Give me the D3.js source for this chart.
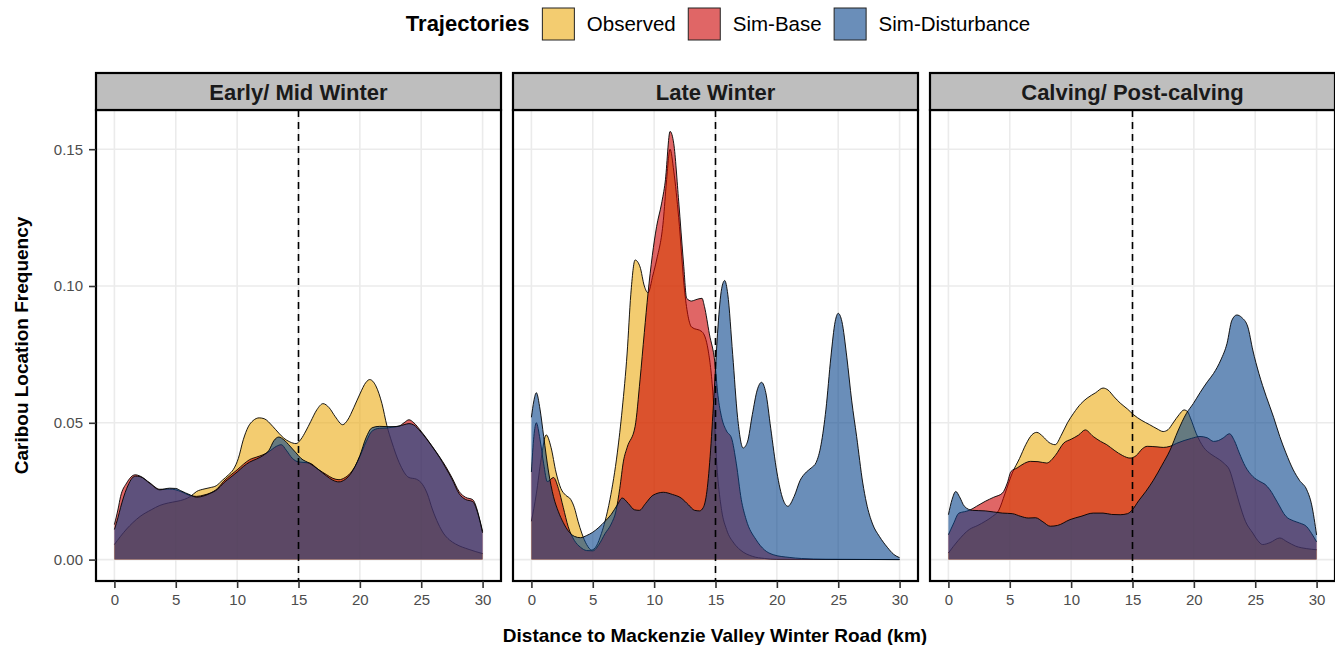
<!DOCTYPE html>
<html><head><meta charset="utf-8">
<script src="https://cdn.jsdelivr.net/npm/d3@7"></script>
<style>
body{margin:0;background:#fff}
svg{display:block}
text{font-family:"Liberation Sans",Arial,Helvetica,sans-serif}
</style></head>
<body><svg id="chart" width="1335" height="645"></svg>
<script>
// ---------- data ----------
const panelTitles = ["Early/ Mid Winter", "Late Winter", "Calving/ Post-calving"];
const seriesNames = ["Observed", "Sim-Base", "Sim-Disturbance"];
const seriesColors = ["#EBAA10", "#CC0000", "#07438A"];
const xTicks = [0, 5, 10, 15, 20, 25, 30];
const yTicks = [0, 0.05, 0.10, 0.15];
const yTickLabels = ["0.00", "0.05", "0.10", "0.15"];
const roadKm = 15;
const xTitle = "Distance to Mackenzie Valley Winter Road (km)";
const yTitle = "Caribou Location Frequency";
const legendTitle = "Trajectories";

// [km, density]
const earlyObserved = [[0,0.0055],[0.5,0.0085],[1,0.0112],[1.5,0.0135],[2.1,0.0158],[3,0.0182],[3.7,0.0198],[4.4,0.0207],[5.1,0.0213],[5.7,0.0220],[6.2,0.0231],[6.7,0.0249],[7.3,0.0258],[7.8,0.0263],[8.3,0.0270],[8.8,0.0290],[9.3,0.0310],[9.7,0.0330],[10.1,0.0370],[10.5,0.0438],[10.9,0.0485],[11.3,0.0508],[11.8,0.0518],[12.2,0.0515],[12.9,0.0487],[13.4,0.0462],[13.8,0.0444],[14.3,0.0430],[14.8,0.0424],[15.2,0.0440],[15.6,0.0470],[16.0,0.0505],[16.5,0.0548],[17.0,0.0570],[17.5,0.0555],[18.0,0.0522],[18.6,0.0493],[19.0,0.0510],[19.5,0.0555],[20.0,0.0605],[20.5,0.0648],[20.8,0.0658],[21.3,0.0635],[21.8,0.0570],[22.2,0.0490],[22.6,0.0430],[23.2,0.0355],[24.0,0.0300],[24.6,0.0294],[25.1,0.0275],[25.5,0.0240],[25.9,0.0185],[26.4,0.0130],[26.8,0.0097],[27.3,0.0072],[27.8,0.0057],[28.9,0.0037],[30,0.0022]];
const earlySimBase = [[0,0.0128],[0.3,0.0185],[0.5,0.0230],[1,0.0280],[1.7,0.0310],[2.1,0.0305],[2.9,0.0280],[3.7,0.0257],[4.5,0.0258],[5.0,0.0255],[5.4,0.0249],[6.2,0.0234],[6.7,0.0231],[7.3,0.0236],[7.8,0.0243],[8.4,0.0260],[8.9,0.0286],[9.5,0.0310],[10,0.0328],[10.5,0.0348],[11,0.0365],[11.6,0.0375],[12.1,0.0383],[12.6,0.0395],[13.2,0.0414],[13.6,0.0420],[14.0,0.0400],[14.5,0.0370],[15.0,0.0357],[15.9,0.0353],[16.6,0.0330],[17.3,0.0310],[17.8,0.0297],[18.3,0.0292],[18.8,0.0300],[19.1,0.0310],[19.6,0.0340],[20,0.0377],[20.5,0.0430],[21,0.0470],[21.6,0.0480],[22.2,0.0481],[22.7,0.0484],[23.2,0.0488],[23.6,0.0500],[24.0,0.0511],[24.4,0.0500],[24.9,0.0474],[25.4,0.0445],[25.9,0.0414],[26.5,0.0375],[27.0,0.0340],[27.5,0.0300],[28.1,0.0248],[28.6,0.0228],[29.2,0.0219],[29.5,0.0190],[29.7,0.0158],[30,0.0103]];
const earlySimDist = [[0,0.0110],[0.3,0.0155],[0.5,0.0190],[1,0.0260],[1.7,0.0305],[2.1,0.0303],[2.9,0.0278],[3.7,0.0255],[4.5,0.0261],[5.0,0.0260],[5.4,0.0252],[6.2,0.0236],[6.7,0.0228],[7.3,0.0233],[7.8,0.0242],[8.4,0.0257],[8.9,0.0280],[9.5,0.0302],[10,0.0320],[10.5,0.0340],[11,0.0356],[11.6,0.0368],[12.1,0.0380],[12.6,0.0400],[13.0,0.0435],[13.4,0.0448],[13.8,0.0438],[14.3,0.0415],[14.8,0.0390],[15.2,0.0370],[15.9,0.0352],[16.6,0.0330],[17.3,0.0305],[17.8,0.0290],[18.3,0.0284],[18.8,0.0293],[19.1,0.0305],[19.6,0.0340],[20,0.0380],[20.5,0.0445],[21,0.0482],[21.6,0.0487],[22.2,0.0486],[22.7,0.0486],[23.2,0.0488],[23.6,0.0493],[24.0,0.0497],[24.4,0.0492],[24.9,0.0470],[25.4,0.0443],[25.9,0.0412],[26.5,0.0373],[27.0,0.0335],[27.5,0.0295],[28.1,0.0240],[28.6,0.0220],[29.2,0.0212],[29.5,0.0185],[29.7,0.0155],[30,0.0098]];

const lateObserved = [[0,0.0140],[0.4,0.0240],[0.8,0.0370],[1.2,0.0456],[1.6,0.0410],[2.0,0.0320],[2.4,0.0260],[2.8,0.0235],[3.2,0.0220],[3.5,0.0190],[3.8,0.0140],[4.1,0.0097],[4.5,0.0055],[4.9,0.0035],[5.3,0.0050],[5.7,0.0095],[6.0,0.0140],[6.4,0.0220],[7.0,0.0390],[7.4,0.0550],[7.8,0.0755],[8.1,0.0970],[8.45,0.1095],[8.85,0.1070],[9.2,0.1000],[9.5,0.0975],[9.9,0.1040],[10.2,0.1095],[10.75,0.1240],[11.0,0.1380],[11.3,0.1500],[11.6,0.1420],[12.0,0.1250],[12.5,0.0974],[13.05,0.0850],[13.9,0.0833],[14.4,0.0766],[14.8,0.0600],[15.1,0.0350],[15.5,0.0180],[15.9,0.0110],[16.5,0.0060],[17,0.0036],[18,0.0012],[19,0.0004],[20,0.0001],[30,0]];
const lateSimBase = [[0,0.0320],[0.2,0.0450],[0.4,0.0500],[0.7,0.0440],[1.0,0.0350],[1.3,0.0285],[1.8,0.0300],[2.2,0.0260],[2.6,0.0190],[3.0,0.0120],[3.5,0.0070],[4.0,0.0045],[4.5,0.0033],[5.0,0.0032],[5.5,0.0055],[6.0,0.0095],[6.5,0.0130],[6.9,0.0180],[7.2,0.0260],[7.5,0.0360],[7.8,0.0410],[8.45,0.0487],[8.85,0.0657],[9.2,0.0830],[9.5,0.0973],[10.2,0.1217],[10.6,0.1300],[10.9,0.1380],[11.3,0.1565],[11.6,0.1520],[12.0,0.1310],[12.4,0.1080],[12.65,0.0955],[13.05,0.0945],[13.4,0.0950],[13.9,0.0955],[14.1,0.0925],[14.5,0.0825],[14.95,0.0720],[15.2,0.0600],[15.5,0.0520],[15.9,0.0470],[16.3,0.0445],[16.7,0.0350],[17.1,0.0220],[17.5,0.0146],[18.3,0.0073],[19,0.0035],[19.7,0.0018],[21,0.0008],[22,0.0004],[24,0.0001],[30,0]];
const lateSimDist = [[0,0.0520],[0.2,0.0580],[0.4,0.0610],[0.7,0.0550],[1.0,0.0450],[1.4,0.0320],[1.8,0.0230],[2.2,0.0175],[2.6,0.0135],[3.0,0.0105],[3.5,0.0085],[4.0,0.0080],[4.5,0.0088],[5.0,0.0100],[5.5,0.0118],[6.0,0.0140],[6.5,0.0165],[7.0,0.0200],[7.4,0.0225],[7.9,0.0205],[8.4,0.0182],[8.8,0.0180],[9.3,0.0205],[9.9,0.0235],[10.75,0.0246],[11.5,0.0238],[12.2,0.0225],[12.8,0.0200],[13.3,0.0180],[13.7,0.0178],[14.0,0.0190],[14.3,0.0250],[14.6,0.0400],[14.9,0.0620],[15.2,0.0850],[15.5,0.0990],[15.75,0.1020],[16.0,0.0970],[16.4,0.0750],[16.8,0.0520],[17.25,0.0408],[17.6,0.0430],[18.0,0.0530],[18.4,0.0620],[18.75,0.0648],[19.1,0.0610],[19.5,0.0480],[20.0,0.0320],[20.5,0.0220],[20.9,0.0195],[21.4,0.0230],[21.9,0.0290],[22.4,0.0320],[22.8,0.0335],[23.2,0.0355],[23.6,0.0420],[24.0,0.0550],[24.4,0.0740],[24.75,0.0870],[25.0,0.0900],[25.3,0.0870],[25.7,0.0740],[26.1,0.0580],[26.5,0.0450],[27.0,0.0280],[27.3,0.0207],[27.8,0.0130],[28.35,0.0085],[29,0.0045],[29.5,0.0020],[30,0.0007]];

const calvObserved = [[0,0.0024],[0.8,0.0070],[1.7,0.0110],[2.4,0.0125],[3.0,0.0140],[3.6,0.0158],[4.1,0.0180],[4.6,0.0240],[5.2,0.0316],[5.8,0.0370],[6.3,0.0420],[6.8,0.0456],[7.2,0.0465],[7.7,0.0450],[8.2,0.0428],[8.7,0.0420],[9.2,0.0455],[9.7,0.0500],[10.2,0.0535],[10.8,0.0570],[11.3,0.0590],[12.0,0.0610],[12.6,0.0627],[13.0,0.0620],[13.5,0.0595],[14.0,0.0572],[14.6,0.0550],[15.1,0.0529],[15.7,0.0510],[16.4,0.0493],[17.0,0.0478],[17.5,0.0468],[17.9,0.0475],[18.3,0.0499],[18.8,0.0530],[19.2,0.0547],[19.5,0.0540],[19.7,0.0520],[20.2,0.0460],[20.8,0.0410],[21.4,0.0385],[22.1,0.0365],[22.5,0.0350],[22.9,0.0328],[23.3,0.0270],[23.7,0.0207],[24.2,0.0140],[24.8,0.0097],[25.2,0.0070],[25.6,0.0055],[26.2,0.0062],[27.0,0.0079],[27.6,0.0065],[28.3,0.0049],[29.2,0.0040],[30,0.0036]];
const calvSimBase = [[0,0.0091],[0.4,0.0130],[0.86,0.0170],[1.3,0.0175],[1.7,0.0180],[2.3,0.0195],[3.0,0.0213],[3.7,0.0228],[4.4,0.0243],[4.8,0.0280],[5.1,0.0322],[5.6,0.0335],[6.2,0.0352],[6.7,0.0359],[7.3,0.0358],[8.0,0.0353],[8.7,0.0380],[9.4,0.0426],[10.0,0.0440],[10.6,0.0455],[11.15,0.0474],[11.8,0.0450],[12.4,0.0432],[12.9,0.0420],[13.5,0.0400],[14.2,0.0380],[14.8,0.0371],[15.3,0.0380],[15.8,0.0405],[16.2,0.0414],[17.0,0.0412],[17.5,0.0410],[18.06,0.0414],[18.6,0.0425],[19.2,0.0435],[19.8,0.0443],[20.5,0.0450],[21.1,0.0445],[21.6,0.0432],[22.0,0.0435],[22.4,0.0445],[22.9,0.0460],[23.3,0.0435],[23.7,0.0390],[24.2,0.0340],[24.8,0.0304],[25.4,0.0285],[25.8,0.0275],[26.2,0.0255],[26.8,0.0210],[27.5,0.0158],[28.1,0.0142],[28.6,0.0134],[29.2,0.0120],[29.6,0.0095],[30,0.0065]];
const calvSimDist = [[0,0.0164],[0.3,0.0220],[0.6,0.0249],[0.9,0.0230],[1.3,0.0195],[1.95,0.0180],[3.0,0.0178],[4.4,0.0170],[5.2,0.0168],[5.9,0.0158],[6.5,0.0152],[7.1,0.0153],[7.7,0.0138],[8.3,0.0122],[8.9,0.0125],[9.9,0.0146],[10.8,0.0158],[11.8,0.0170],[12.6,0.0170],[13.3,0.0165],[14.0,0.0164],[14.6,0.0168],[14.95,0.0180],[15.5,0.0215],[16.1,0.0250],[16.7,0.0290],[17.4,0.0345],[18.06,0.0400],[18.7,0.0470],[19.4,0.0535],[19.95,0.0570],[20.5,0.0610],[21.1,0.0650],[21.6,0.0680],[22.2,0.0730],[22.7,0.0790],[23.1,0.0875],[23.5,0.0894],[23.9,0.0885],[24.4,0.0850],[24.8,0.0766],[25.3,0.0680],[25.9,0.0596],[26.5,0.0520],[27.0,0.0450],[27.5,0.0390],[28.1,0.0328],[28.6,0.0290],[29.2,0.0255],[29.6,0.0200],[30,0.0090]];

const panelSeries = [
  [earlyObserved, earlySimBase, earlySimDist],
  [lateObserved, lateSimBase, lateSimDist],
  [calvObserved, calvSimBase, calvSimDist]
];

// ---------- layout ----------
const svg = d3.select("#chart");
const panelW = 405, panelGap = 12, panelLeft0 = 96;
const stripTop = 73, plotTop = 110, plotBottom = 581;
const fillAlpha = 0.6;

const allVals = panelSeries.flat().flat().map(d => d[1]);
const yMax = d3.max(allVals);
const y = d3.scaleLinear()
  .domain([-0.05 * yMax, 1.05 * yMax])
  .range([plotBottom, plotTop]);

panelSeries.forEach((series, pi) => {
  const left = panelLeft0 + pi * (panelW + panelGap);
  const x = d3.scaleLinear().domain([-1.5, 31.5]).range([left, left + panelW]);
  const g = svg.append("g");

  // background
  g.append("rect").attr("x", left).attr("y", plotTop).attr("width", panelW)
    .attr("height", plotBottom - plotTop).attr("fill", "#fff");

  // grid
  g.selectAll(".vg").data(xTicks).join("line")
    .attr("x1", d => x(d)).attr("x2", d => x(d))
    .attr("y1", plotTop).attr("y2", plotBottom)
    .attr("stroke", "#EBEBEB").attr("stroke-width", 1.6);
  g.selectAll(".hg").data(yTicks).join("line")
    .attr("x1", left).attr("x2", left + panelW)
    .attr("y1", d => y(d)).attr("y2", d => y(d))
    .attr("stroke", "#EBEBEB").attr("stroke-width", 1.6);

  const area = d3.area().x(d => x(d[0])).y0(y(0)).y1(d => y(d[1])).curve(d3.curveMonotoneX);
  const line = d3.line().x(d => x(d[0])).y(d => y(d[1])).curve(d3.curveMonotoneX);

  series.forEach((s, si) => {
    g.append("path").datum(s).attr("d", area)
      .attr("fill", seriesColors[si]).attr("fill-opacity", fillAlpha);
    g.append("path").datum(s).attr("d", line)
      .attr("fill", "none").attr("stroke", "#000").attr("stroke-width", 0.9);
  });

  // dashed road line
  g.append("line").attr("x1", x(roadKm)).attr("x2", x(roadKm))
    .attr("y1", plotTop).attr("y2", plotBottom)
    .attr("stroke", "#000").attr("stroke-width", 1.6)
    .attr("stroke-dasharray", "7,5");

  // panel border
  g.append("rect").attr("x", left).attr("y", plotTop).attr("width", panelW)
    .attr("height", plotBottom - plotTop).attr("fill", "none")
    .attr("stroke", "#000").attr("stroke-width", 2.2);

  // strip
  g.append("rect").attr("x", left).attr("y", stripTop).attr("width", panelW)
    .attr("height", plotTop - stripTop).attr("fill", "#BEBEBE")
    .attr("stroke", "#000").attr("stroke-width", 2.2);
  g.append("text").attr("x", left + panelW / 2).attr("y", (stripTop + plotTop) / 2 + 8)
    .attr("text-anchor", "middle").attr("font-size", 22).attr("font-weight", "bold")
    .attr("fill", "#1A1A1A").text(panelTitles[pi]);

  // x axis
  const xa = svg.append("g").attr("transform", `translate(0,${plotBottom})`)
    .call(d3.axisBottom(x).tickValues(xTicks).tickSize(7).tickPadding(6).tickFormat(d3.format("d")));
  xa.select(".domain").remove();
  xa.selectAll(".tick line").attr("stroke", "#333").attr("stroke-width", 1.6);
  xa.selectAll(".tick text").attr("font-size", 15).attr("fill", "#4D4D4D")
    .attr("font-family", '"Liberation Sans",Arial,sans-serif');

  if (pi === 0) {
    const ya = svg.append("g").attr("transform", `translate(${left},0)`)
      .call(d3.axisLeft(y).tickValues(yTicks).tickSize(7).tickPadding(6)
        .tickFormat((d, i) => yTickLabels[i]));
    ya.select(".domain").remove();
    ya.selectAll(".tick line").attr("stroke", "#333").attr("stroke-width", 1.6);
    ya.selectAll(".tick text").attr("font-size", 15).attr("fill", "#4D4D4D")
      .attr("font-family", '"Liberation Sans",Arial,sans-serif');
  }
});

// axis titles
svg.append("text").attr("x", 715).attr("y", 642).attr("text-anchor", "middle")
  .attr("font-size", 19).attr("font-weight", "bold").attr("fill", "#000").text(xTitle);
svg.append("text").attr("transform", `translate(28,${(plotTop + plotBottom) / 2}) rotate(-90)`)
  .attr("text-anchor", "middle").attr("font-size", 19).attr("font-weight", "bold")
  .attr("fill", "#000").text(yTitle);

// legend
const lg = svg.append("g");
const lt = lg.append("text").attr("x", 0).attr("y", 31).attr("font-size", 22)
  .attr("font-weight", "bold").attr("fill", "#000").text(legendTitle);
let cx = lt.node().getComputedTextLength() + 13;
seriesNames.forEach((name, i) => {
  lg.append("rect").attr("x", cx).attr("y", 8).attr("width", 32).attr("height", 32)
    .attr("fill", seriesColors[i]).attr("fill-opacity", fillAlpha)
    .attr("stroke", "#222").attr("stroke-width", 1);
  cx += 32 + 12.5;
  const t = lg.append("text").attr("x", cx).attr("y", 31).attr("font-size", 20.5)
    .attr("fill", "#000").text(name);
  cx += t.node().getComputedTextLength() + 12.5;
});
const legendW = cx - 12.5;
lg.attr("transform", `translate(${718 - legendW / 2},0)`);
</script></body></html>
